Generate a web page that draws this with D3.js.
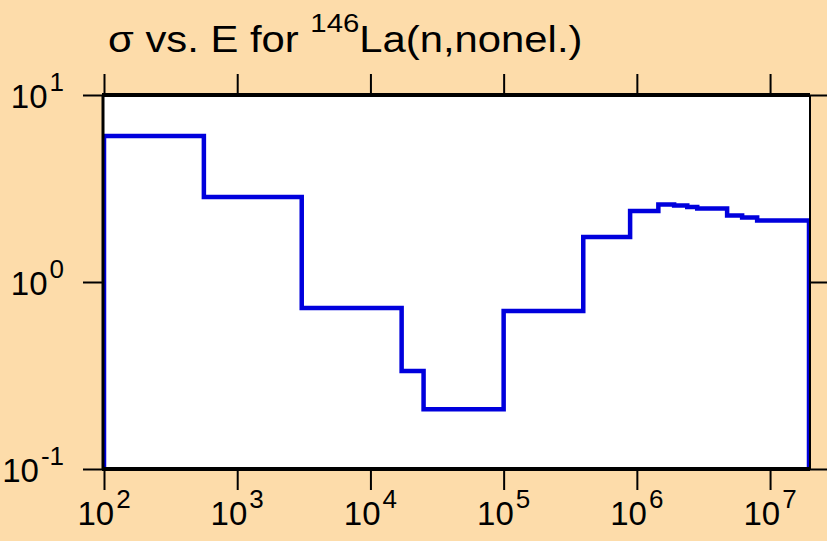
<!DOCTYPE html>
<meta charset="utf-8">
<style>
  body { margin: 0; background: #fddcaa; }
  svg { display: block; font-family: "Liberation Sans", Arial, sans-serif; }
  .tick line { stroke: #000; stroke-width: 2px; }
  .domain { display: none; }
</style>
<svg width="827" height="541"></svg>
<script src="https://cdn.jsdelivr.net/npm/d3@7"></script>
<script>
  // bin edges in eV and cross section (b) for each bin
  var edges = [1e2, 562, 3050, 17150, 25060, 1e5, 3.96e5, 8.9e5, 1.45e6, 1.905e6, 2.39e6, 2.84e6, 4.76e6, 6.17e6, 8.0e6, 1.96e7];
  var sigma = [6.04, 2.85, 0.726, 0.334, 0.209, 0.70, 1.74, 2.40, 2.60, 2.565, 2.52, 2.47, 2.27, 2.21, 2.13];
  var xTicks = [1e2, 1e3, 1e4, 1e5, 1e6, 1e7];
  var yTicks = [0.1, 1, 10];

  var svg = d3.select("svg"),
    pL = 104, pR = 809, pT = 95, pB = 469;

  var x = d3.scaleLog().domain([1e2, 1.96e7]).range([pL, pR]);
  var y = d3.scaleLog().domain([0.1, 10]).range([pB, pT]);

  svg.append("rect").attr("x", pL).attr("y", pT)
    .attr("width", pR - pL).attr("height", pB - pT).attr("fill", "#fff");

  // title (font is a bit wider in the original, so stretch it)
  var title = svg.append("text").attr("transform", "translate(108,52) scale(1.13,1)")
    .attr("font-size", 37).attr("fill", "#000");
  title.append("tspan").text("\u03c3 vs. E for ");
  title.append("tspan").attr("font-size", 26).attr("dy", -20).text("146");
  title.append("tspan").attr("dy", 20).text("La(n,nonel.)");

  // step histogram
  var pts = [[edges[0], 0.1]];
  sigma.forEach(function(s, i) { pts.push([edges[i], s]); });
  pts.push([edges[edges.length - 1], sigma[sigma.length - 1]]);
  pts.push([edges[edges.length - 1], 0.1]);

  svg.append("clipPath").attr("id", "clip").append("rect")
    .attr("x", pL).attr("y", pT - 2).attr("width", pR - pL).attr("height", pB - pT + 2);

  var line = d3.line()
    .x(function(d) { return x(d[0]); })
    .y(function(d) { return y(d[1]); })
    .curve(d3.curveStepAfter);

  svg.append("path").datum(pts)
    .attr("clip-path", "url(#clip)")
    .attr("d", line)
    .attr("fill", "none")
    .attr("stroke", "#0000dd")
    .attr("stroke-width", 4.5)
    .attr("stroke-linejoin", "miter");

  // axes ticks (labels drawn separately)
  svg.append("g").attr("transform", "translate(0," + pB + ")")
    .call(d3.axisBottom(x).tickValues(xTicks).tickSize(21).tickFormat(""));
  svg.append("g").attr("transform", "translate(0," + pT + ")")
    .call(d3.axisTop(x).tickValues(xTicks).tickSize(21).tickFormat(""));
  svg.append("g").attr("transform", "translate(" + pL + ",0)")
    .call(d3.axisLeft(y).tickValues(yTicks).tickSize(21).tickFormat(""));
  svg.append("g").attr("transform", "translate(" + pR + ",0)")
    .call(d3.axisRight(y).tickValues(yTicks).tickSize(21).tickFormat(""));

  // frame
  svg.append("line").attr("x1", pL - 2).attr("x2", pR + 1).attr("y1", pT).attr("y2", pT)
    .attr("stroke", "#000").attr("stroke-width", 4);
  svg.append("line").attr("x1", pL - 2).attr("x2", pR + 1).attr("y1", pB).attr("y2", pB)
    .attr("stroke", "#000").attr("stroke-width", 4);
  svg.append("line").attr("x1", pL - 1).attr("x2", pL - 1).attr("y1", pT).attr("y2", pB)
    .attr("stroke", "#000").attr("stroke-width", 3);
  svg.append("line").attr("x1", pR + 1).attr("x2", pR + 1).attr("y1", pT).attr("y2", pB)
    .attr("stroke", "#000").attr("stroke-width", 2);

  function expo(v) { return Math.round(Math.log10(v)); }

  // x labels
  xTicks.forEach(function(v) {
    var t = svg.append("text").attr("x", x(v)).attr("y", 525)
      .attr("text-anchor", "middle").attr("font-size", 33);
    t.append("tspan").text("10");
    t.append("tspan").attr("font-size", 26).attr("dx", 2).attr("dy", -17).text(expo(v));
  });

  // y labels
  yTicks.forEach(function(v) {
    var t = svg.append("text").attr("x", 64).attr("y", y(v) + 13)
      .attr("text-anchor", "end").attr("font-size", 33);
    t.append("tspan").text("10");
    t.append("tspan").attr("font-size", 26).attr("dx", 2).attr("dy", -17).text(expo(v));
  });
</script>
